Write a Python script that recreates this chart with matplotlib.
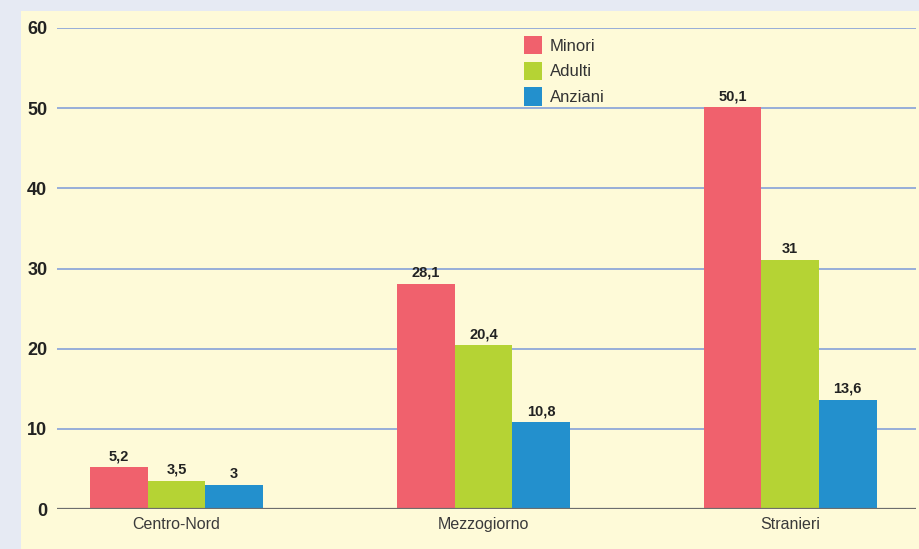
import numpy as np
import matplotlib.pyplot as plt
from matplotlib.patches import Rectangle

plt.rcParams['font.family'] = ['Liberation Sans', 'DejaVu Sans']

categorie = ['Centro-Nord', 'Mezzogiorno', 'Stranieri']
serie = ['Minori', 'Adulti', 'Anziani']
minori = [5.2, 28.1, 50.1]
adulti = [3.5, 20.4, 31]
anziani = [3, 10.8, 13.6]
colori = ['#f0616d', '#b5d334', '#2390cd']
yticks = [0, 10, 20, 30, 40, 50, 60]

fig = plt.figure(figsize=(9.19, 5.49), dpi=100)
fig.patch.set_facecolor('#e6eaf3')
# yellow panel behind the plot
fig.patches.append(Rectangle((21 / 919, 0), 1, 1 - 11 / 549,
                             transform=fig.transFigure, facecolor='#fefad8',
                             edgecolor='none', zorder=-10))

ax = fig.add_axes([57 / 919, 1 - 509 / 549, (916 - 57) / 919, (509 - 28) / 549])
ax.set_facecolor('none')

x = np.arange(len(categorie))
w = 0.1876
for i, (vals, lab) in enumerate(zip([minori, adulti, anziani], serie)):
    pos = x + (i - 1) * w
    ax.bar(pos, vals, w, color=colori[i], label=lab, zorder=3)
    for px, v in zip(pos, vals):
        txt = ('%g' % v).replace('.', ',')
        ax.annotate(txt, (px, v), xytext=(0, 3), textcoords='offset points',
                    ha='center', va='bottom', fontsize=10.5, fontweight='bold',
                    color='#222222', zorder=4)

ax.set_xlim(-0.39, 2.41)
ax.set_ylim(0, 60)
ax.set_yticks(yticks)
ax.set_yticklabels([str(t) for t in yticks], fontsize=13, fontweight='bold',
                   color='#222222')
ax.set_xticks(x)
ax.set_xticklabels(categorie, fontsize=11.5, color='#3a3a3a')
ax.tick_params(axis='both', length=0)
ax.tick_params(axis='y', pad=7)
ax.tick_params(axis='x', pad=6)

for t in yticks[1:]:
    ax.axhline(t, color='#8fa7d9', lw=1.3, zorder=1)
ax.axhline(0, color='#6d6d6d', lw=1.6, zorder=5)
for s in ax.spines.values():
    s.set_visible(False)

leg = ax.legend(loc='upper left', bbox_to_anchor=(524 / 919, 1 - 36 / 549),
                bbox_transform=fig.transFigure, frameon=False, fontsize=12,
                handlelength=1.1, handleheight=1.3, handletextpad=0.45,
                labelspacing=0.45, borderpad=0, borderaxespad=0)
for t in leg.get_texts():
    t.set_color('#333333')

fig.savefig('out.png', dpi=100, facecolor=fig.get_facecolor())
